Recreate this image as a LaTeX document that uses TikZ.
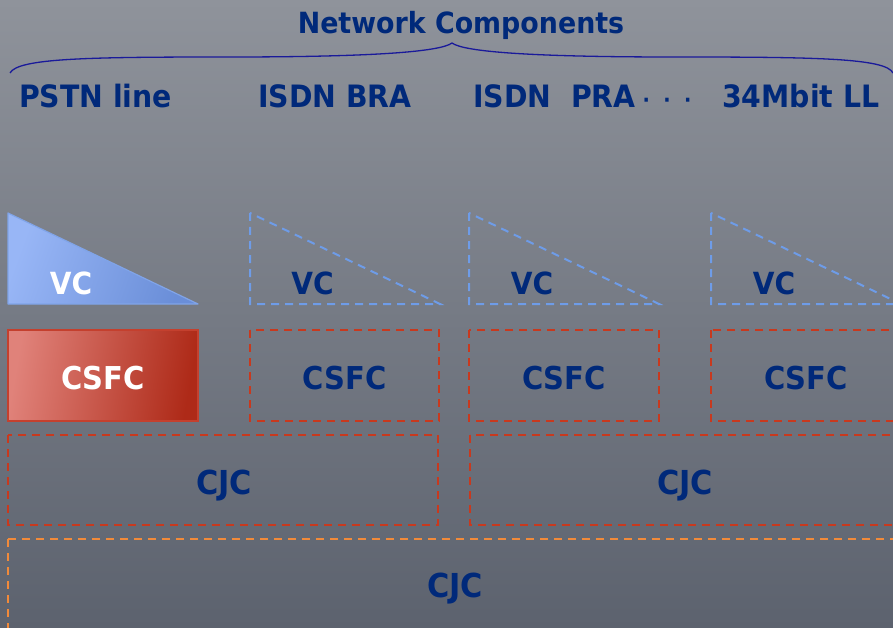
\documentclass[tikz,border=0pt]{standalone}
\usepackage{fontspec}
\newfontfamily\tah{DejaVu Sans}[FakeStretch=0.92]
\definecolor{bgtop}{HTML}{8F939B}
\definecolor{bgbot}{HTML}{5C626E}
\definecolor{navy}{HTML}{00297A}
\definecolor{bracecol}{HTML}{1A1A9A}
\definecolor{vcA}{HTML}{98B6F6}
\definecolor{vcB}{HTML}{6A8ED8}
\definecolor{vcedge}{HTML}{80A4E8}
\definecolor{vcdash}{HTML}{6E9CE8}
\definecolor{csA}{HTML}{E0827A}
\definecolor{csB}{HTML}{AE2A18}
\definecolor{csedge}{HTML}{C4402E}
\definecolor{reddash}{HTML}{C8391E}
\definecolor{orangedash}{HTML}{F28A3A}
\tikzset{
  px/.style={x=1pt,y=-1pt},
  lbl/.style={text=navy,inner sep=0pt,anchor=base west,font=\tah\bfseries\fontsize{30.8}{36}\selectfont},
  ctxt/.style={text=navy,inner sep=0pt,anchor=base},
  vcfont/.style={font=\tah\bfseries\fontsize{30.5}{36}\selectfont},
  csfont/.style={font=\tah\bfseries\fontsize{31.5}{36}\selectfont},
  cjfont/.style={font=\tah\bfseries\fontsize{33}{38}\selectfont},
  dashline/.style={line width=2.4pt,dash pattern=on 8pt off 6pt},
  vcdashed/.style={dashline,draw=vcdash,line width=2pt},
  reddashed/.style={dashline,draw=reddash},
  orangedashed/.style={dashline,draw=orangedash},
}
\begin{document}
\begin{tikzpicture}[px]
  % background
  \useasboundingbox (0,0) rectangle (893,628);
  \shade[top color=bgtop,bottom color=bgbot] (0,0) rectangle (893,628);

  % title and brace
  \node[ctxt,font=\tah\bfseries\fontsize{29.2}{35}\selectfont] (title) at (461,34) {Network Components};
  \coordinate (bl) at (10,73);
  \coordinate (bt) at (452,43);
  \coordinate (br) at (893,73);
  \draw[bracecol,line width=1.3pt]
    (bl) .. controls (18,58) and (90,57) .. (230,57)
         .. controls (370,57) and (440,52) .. (bt)
         .. controls (464,52) and (534,57) .. (674,57)
         .. controls (814,57) and (886,58) .. (br);

  % column headings
  \node[lbl] (pstn) at (19,108) {PSTN line};
  \node[lbl] (bra) at (258,108) {ISDN BRA};
  \node[lbl] (pra) at (473,108) {ISDN\ \ PRA};
  \node[text=navy,inner sep=0pt,anchor=base,font=\tah\bfseries\fontsize{21}{24}\selectfont] (dots) at (667,108) {·\kern13.5pt·\kern13.5pt·};
  \node[lbl] (ll) at (722,108) {34Mbit LL};

  % VC layer
  \shade[left color=vcA,right color=vcB,shading angle=70] (8,213) -- (8,304) -- (198,304) -- cycle;
  \draw[vcedge,line width=1.2pt,line join=round] (8,213) -- (8,304) -- (198,304) -- cycle;
  \draw[vcdashed] (250,213) -- (250,304) -- (440,304) -- cycle;
  \draw[vcdashed] (469,213) -- (469,304) -- (659,304) -- cycle;
  \draw[vcdashed] (711,213) -- (711,304) -- (901,304) -- cycle;
  \node[ctxt,vcfont,text=white] (vc1) at (71,294) {VC};
  \node[ctxt,vcfont] (vc2) at (312.5,294) {VC};
  \node[ctxt,vcfont] (vc3) at (532,294) {VC};
  \node[ctxt,vcfont] (vc4) at (774,294) {VC};

  % CSFC layer
  \shade[left color=csA,right color=csB,shading angle=80] (8,330) rectangle (198,421);
  \draw[csedge,line width=1.3pt] (8,330) rectangle (198,421);
  \draw[reddashed] (250,330) rectangle (439,421);
  \draw[reddashed] (469,330) rectangle (659,421);
  \draw[reddashed] (711,330) rectangle (905,421);
  \node[ctxt,csfont,text=white] (cs1) at (103,389) {CSFC};
  \node[ctxt,csfont] (cs2) at (344.5,389) {CSFC};
  \node[ctxt,csfont] (cs3) at (564,389) {CSFC};
  \node[ctxt,csfont] (cs4) at (806,389) {CSFC};

  % CJC layers
  \draw[reddashed] (8,435) rectangle (438,525);
  \draw[reddashed] (470,435) rectangle (905,525);
  \node[ctxt,cjfont] (cj1) at (224,494) {CJC};
  \node[ctxt,cjfont] (cj2) at (685,494) {CJC};
  \draw[orangedashed] (8,539) rectangle (905,640);
  \node[ctxt,cjfont] (cj3) at (455,597) {CJC};
\end{tikzpicture}
\end{document}
